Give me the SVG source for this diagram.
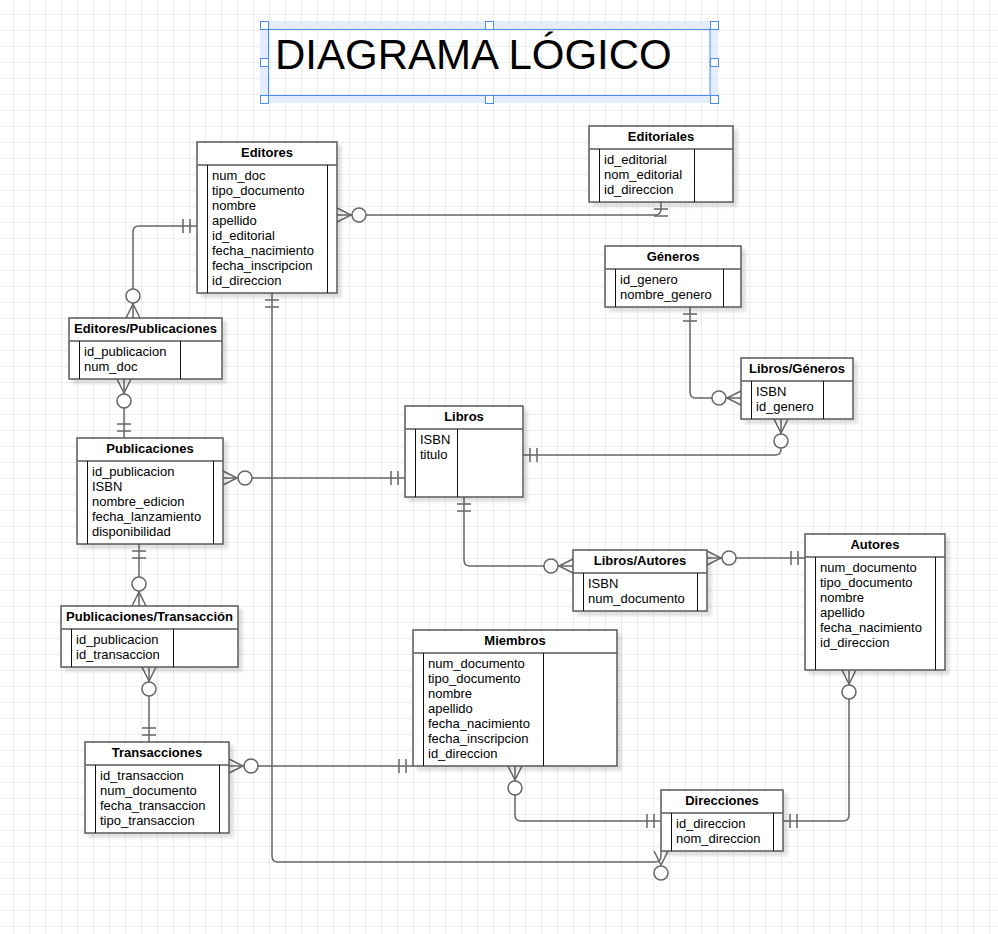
<svg xmlns="http://www.w3.org/2000/svg" width="998" height="934" viewBox="0 0 998 934">
<defs>
<pattern id="grid" x="13" y="14" width="16" height="16" patternUnits="userSpaceOnUse">
<path d="M0 0 H16 M0 0 V16" fill="none" stroke="#dedede" stroke-width="1"/>
</pattern>
<filter id="sh" x="-10%" y="-10%" width="130%" height="130%">
<feDropShadow dx="4" dy="4" stdDeviation="1.5" flood-color="#000" flood-opacity="0.12"/>
</filter>
<style>
.tbl{fill:#fff;stroke:#5a5a5a;stroke-width:1.5;filter:url(#sh)}
.hd{stroke:#5a5a5a;stroke-width:1.5}
.col{stroke:#111;stroke-width:1}
.th{font-family:"Liberation Sans",Arial,sans-serif;font-size:13px;font-weight:bold;text-anchor:middle;fill:#000}
.td{font-family:"Liberation Sans",Arial,sans-serif;font-size:13px;fill:#000}
.ln{fill:none;stroke:#666;stroke-width:1.5}
.ci{fill:#fff;stroke:#666;stroke-width:1.5}
.hdl{fill:#fff;stroke:#4a8ef0;stroke-width:1}
</style>
</defs>
<rect width="998" height="934" fill="#fff"/>
<rect width="998" height="934" fill="url(#grid)"/>

<g id="title">
<rect x="264" y="25" width="450" height="74" fill="none" stroke="#dde9fc" stroke-opacity="0.8" stroke-width="8"/>
<rect x="268.5" y="29.5" width="441.5" height="66" fill="none" stroke="#4a8ef0" stroke-width="1"/>
<text x="275" y="69" font-family="'Liberation Sans',Arial,sans-serif" font-size="42" fill="#000">DIAGRAMA LÓGICO</text>
<rect class="hdl" x="260.5" y="21.5" width="8" height="8"/>
<rect class="hdl" x="485.5" y="21.5" width="8" height="8"/>
<rect class="hdl" x="710.5" y="21.5" width="8" height="8"/>
<rect class="hdl" x="260.5" y="58.5" width="8" height="8"/>
<rect class="hdl" x="710.5" y="58.5" width="8" height="8"/>
<rect class="hdl" x="260.5" y="95.5" width="8" height="8"/>
<rect class="hdl" x="485.5" y="95.5" width="8" height="8"/>
<rect class="hdl" x="710.5" y="95.5" width="8" height="8"/>
</g>

<g id="connectors">
<!-- Editores - Editoriales -->
<path class="ln" d="M337 215 H655 Q661 215 661 209 V202"/>
<path class="ln" d="M337 208 L351 215 L337 222 M654 209 H668 M654 216 H668"/>
<circle class="ci" cx="359" cy="215" r="7"/>
<!-- Editores - Editores/Publicaciones -->
<path class="ln" d="M197 226 H139 Q133 226 133 232 V318"/>
<path class="ln" d="M190 219 V233 M183 219 V233 M126 318 L133 304 L140 318"/>
<circle class="ci" cx="133" cy="296" r="7"/>
<!-- Editores/Publicaciones - Publicaciones -->
<path class="ln" d="M124 379 V438"/>
<path class="ln" d="M117 379 L124 393 L131 379 M117 431 H131 M117 424 H131"/>
<circle class="ci" cx="124" cy="401" r="7"/>
<!-- Publicaciones - Libros -->
<path class="ln" d="M223 478 H405"/>
<path class="ln" d="M223 471 L237 478 L223 485 M398 471 V485 M391 471 V485"/>
<circle class="ci" cx="245" cy="478" r="7"/>
<!-- Libros - Libros/Generos -->
<path class="ln" d="M523 455 H775 Q781 455 781 449 V419"/>
<path class="ln" d="M530 448 V462 M537 448 V462 M774 419 L781 433 L788 419"/>
<circle class="ci" cx="781" cy="441" r="7"/>
<!-- Generos - Libros/Generos -->
<path class="ln" d="M690 307 V392 Q690 398 696 398 H741"/>
<path class="ln" d="M683 314 H697 M683 321 H697 M741 391 L727 398 L741 405"/>
<circle class="ci" cx="719" cy="398" r="7"/>
<!-- Libros - Libros/Autores -->
<path class="ln" d="M464 497 V560 Q464 566 470 566 H573"/>
<path class="ln" d="M457 504 H471 M457 511 H471 M573 559 L559 566 L573 573"/>
<circle class="ci" cx="551" cy="566" r="7"/>
<!-- Libros/Autores - Autores -->
<path class="ln" d="M707 558 H805"/>
<path class="ln" d="M707 551 L721 558 L707 565 M798 551 V565 M791 551 V565"/>
<circle class="ci" cx="729" cy="558" r="7"/>
<!-- Editores - Direcciones -->
<path class="ln" d="M272 293 V856 Q272 862 278 862 H655 Q661 862 661 856 V851"/>
<path class="ln" d="M265 300 H279 M265 307 H279 M654 851 L661 865 L668 851"/>
<circle class="ci" cx="661" cy="873" r="7"/>
<!-- Transacciones - Miembros -->
<path class="ln" d="M229 766 H413"/>
<path class="ln" d="M229 759 L243 766 L229 773 M406 759 V773 M399 759 V773"/>
<circle class="ci" cx="251" cy="766" r="7"/>
<!-- Publicaciones - Publicaciones/Transaccion -->
<path class="ln" d="M139 544 V606"/>
<path class="ln" d="M132 551 H146 M132 558 H146 M132 606 L139 592 L146 606"/>
<circle class="ci" cx="139" cy="584" r="7"/>
<!-- Publicaciones/Transaccion - Transacciones -->
<path class="ln" d="M149 667 V742"/>
<path class="ln" d="M142 667 L149 681 L156 667 M142 735 H156 M142 728 H156"/>
<circle class="ci" cx="149" cy="689" r="7"/>
<!-- Miembros - Direcciones -->
<path class="ln" d="M515 766 V815 Q515 821 521 821 H661"/>
<path class="ln" d="M508 766 L515 780 L522 766 M654 814 V828 M647 814 V828"/>
<circle class="ci" cx="515" cy="788" r="7"/>
<!-- Autores - Direcciones -->
<path class="ln" d="M849 670 V815 Q849 821 843 821 H783"/>
<path class="ln" d="M842 670 L849 684 L856 670 M790 814 V828 M797 814 V828"/>
<circle class="ci" cx="849" cy="692" r="7"/>
</g>

<g id="editores">
<rect class="tbl" x="197" y="142" width="140" height="151"/>
<line class="hd" x1="197" y1="165" x2="337" y2="165"/>
<line class="col" x1="207.5" y1="165" x2="207.5" y2="293"/>
<line class="col" x1="327.5" y1="165" x2="327.5" y2="293"/>
<text class="th" x="267" y="157">Editores</text>
<text class="td" x="212" y="180">num_doc</text>
<text class="td" x="212" y="195">tipo_documento</text>
<text class="td" x="212" y="210">nombre</text>
<text class="td" x="212" y="225">apellido</text>
<text class="td" x="212" y="240">id_editorial</text>
<text class="td" x="212" y="255">fecha_nacimiento</text>
<text class="td" x="212" y="270">fecha_inscripcion</text>
<text class="td" x="212" y="285">id_direccion</text>
</g>

<g id="editoriales">
<rect class="tbl" x="589" y="126" width="144" height="76"/>
<line class="hd" x1="589" y1="149" x2="733" y2="149"/>
<line class="col" x1="599.5" y1="149" x2="599.5" y2="202"/>
<line class="col" x1="694.5" y1="149" x2="694.5" y2="202"/>
<text class="th" x="661" y="141">Editoriales</text>
<text class="td" x="604" y="164">id_editorial</text>
<text class="td" x="604" y="179">nom_editorial</text>
<text class="td" x="604" y="194">id_direccion</text>
</g>

<g id="generos">
<rect class="tbl" x="605" y="246" width="136" height="61"/>
<line class="hd" x1="605" y1="269" x2="741" y2="269"/>
<line class="col" x1="615.5" y1="269" x2="615.5" y2="307"/>
<line class="col" x1="723.5" y1="269" x2="723.5" y2="307"/>
<text class="th" x="673" y="261">Géneros</text>
<text class="td" x="620" y="284">id_genero</text>
<text class="td" x="620" y="299">nombre_genero</text>
</g>

<g id="libros_generos">
<rect class="tbl" x="741" y="358" width="112" height="61"/>
<line class="hd" x1="741" y1="381" x2="853" y2="381"/>
<line class="col" x1="751.5" y1="381" x2="751.5" y2="419"/>
<line class="col" x1="823.5" y1="381" x2="823.5" y2="419"/>
<text class="th" x="797" y="373">Libros/Géneros</text>
<text class="td" x="756" y="396">ISBN</text>
<text class="td" x="756" y="411">id_genero</text>
</g>

<g id="editores_publicaciones">
<rect class="tbl" x="69" y="318" width="153" height="61"/>
<line class="hd" x1="69" y1="341" x2="222" y2="341"/>
<line class="col" x1="79.5" y1="341" x2="79.5" y2="379"/>
<line class="col" x1="180.5" y1="341" x2="180.5" y2="379"/>
<text class="th" x="145.5" y="333">Editores/Publicaciones</text>
<text class="td" x="84" y="356">id_publicacion</text>
<text class="td" x="84" y="371">num_doc</text>
</g>

<g id="publicaciones">
<rect class="tbl" x="77" y="438" width="146" height="106"/>
<line class="hd" x1="77" y1="461" x2="223" y2="461"/>
<line class="col" x1="87.5" y1="461" x2="87.5" y2="544"/>
<line class="col" x1="213.5" y1="461" x2="213.5" y2="544"/>
<text class="th" x="150" y="453">Publicaciones</text>
<text class="td" x="92" y="476">id_publicacion</text>
<text class="td" x="92" y="491">ISBN</text>
<text class="td" x="92" y="506">nombre_edicion</text>
<text class="td" x="92" y="521">fecha_lanzamiento</text>
<text class="td" x="92" y="536">disponibilidad</text>
</g>

<g id="libros">
<rect class="tbl" x="405" y="406" width="118" height="91"/>
<line class="hd" x1="405" y1="429" x2="523" y2="429"/>
<line class="col" x1="415.5" y1="429" x2="415.5" y2="497"/>
<line class="col" x1="457.5" y1="429" x2="457.5" y2="497"/>
<text class="th" x="464" y="421">Libros</text>
<text class="td" x="420" y="444">ISBN</text>
<text class="td" x="420" y="459">titulo</text>
</g>

<g id="libros_autores">
<rect class="tbl" x="573" y="550" width="134" height="61"/>
<line class="hd" x1="573" y1="573" x2="707" y2="573"/>
<line class="col" x1="583.5" y1="573" x2="583.5" y2="611"/>
<line class="col" x1="697.5" y1="573" x2="697.5" y2="611"/>
<text class="th" x="640" y="565">Libros/Autores</text>
<text class="td" x="588" y="588">ISBN</text>
<text class="td" x="588" y="603">num_documento</text>
</g>

<g id="autores">
<rect class="tbl" x="805" y="534" width="140" height="136"/>
<line class="hd" x1="805" y1="557" x2="945" y2="557"/>
<line class="col" x1="815.5" y1="557" x2="815.5" y2="670"/>
<line class="col" x1="935.5" y1="557" x2="935.5" y2="670"/>
<text class="th" x="875" y="549">Autores</text>
<text class="td" x="820" y="572">num_documento</text>
<text class="td" x="820" y="587">tipo_documento</text>
<text class="td" x="820" y="602">nombre</text>
<text class="td" x="820" y="617">apellido</text>
<text class="td" x="820" y="632">fecha_nacimiento</text>
<text class="td" x="820" y="647">id_direccion</text>
</g>

<g id="publicaciones_transaccion">
<rect class="tbl" x="61" y="606" width="177" height="61"/>
<line class="hd" x1="61" y1="629" x2="238" y2="629"/>
<line class="col" x1="71.5" y1="629" x2="71.5" y2="667"/>
<line class="col" x1="173.5" y1="629" x2="173.5" y2="667"/>
<text class="th" x="149.5" y="621">Publicaciones/Transacción</text>
<text class="td" x="76" y="644">id_publicacion</text>
<text class="td" x="76" y="659">id_transaccion</text>
</g>

<g id="miembros">
<rect class="tbl" x="413" y="630" width="204" height="136"/>
<line class="hd" x1="413" y1="653" x2="617" y2="653"/>
<line class="col" x1="423.5" y1="653" x2="423.5" y2="766"/>
<line class="col" x1="543.5" y1="653" x2="543.5" y2="766"/>
<text class="th" x="515" y="645">Miembros</text>
<text class="td" x="428" y="668">num_documento</text>
<text class="td" x="428" y="683">tipo_documento</text>
<text class="td" x="428" y="698">nombre</text>
<text class="td" x="428" y="713">apellido</text>
<text class="td" x="428" y="728">fecha_nacimiento</text>
<text class="td" x="428" y="743">fecha_inscripcion</text>
<text class="td" x="428" y="758">id_direccion</text>
</g>

<g id="transacciones">
<rect class="tbl" x="85" y="742" width="144" height="91"/>
<line class="hd" x1="85" y1="765" x2="229" y2="765"/>
<line class="col" x1="95.5" y1="765" x2="95.5" y2="833"/>
<line class="col" x1="219.5" y1="765" x2="219.5" y2="833"/>
<text class="th" x="157" y="757">Transacciones</text>
<text class="td" x="100" y="780">id_transaccion</text>
<text class="td" x="100" y="795">num_documento</text>
<text class="td" x="100" y="810">fecha_transaccion</text>
<text class="td" x="100" y="825">tipo_transaccion</text>
</g>

<g id="direcciones">
<rect class="tbl" x="661" y="790" width="122" height="61"/>
<line class="hd" x1="661" y1="813" x2="783" y2="813"/>
<line class="col" x1="671.5" y1="813" x2="671.5" y2="851"/>
<line class="col" x1="773.5" y1="813" x2="773.5" y2="851"/>
<text class="th" x="722" y="805">Direcciones</text>
<text class="td" x="676" y="828">id_direccion</text>
<text class="td" x="676" y="843">nom_direccion</text>
</g>
</svg>
